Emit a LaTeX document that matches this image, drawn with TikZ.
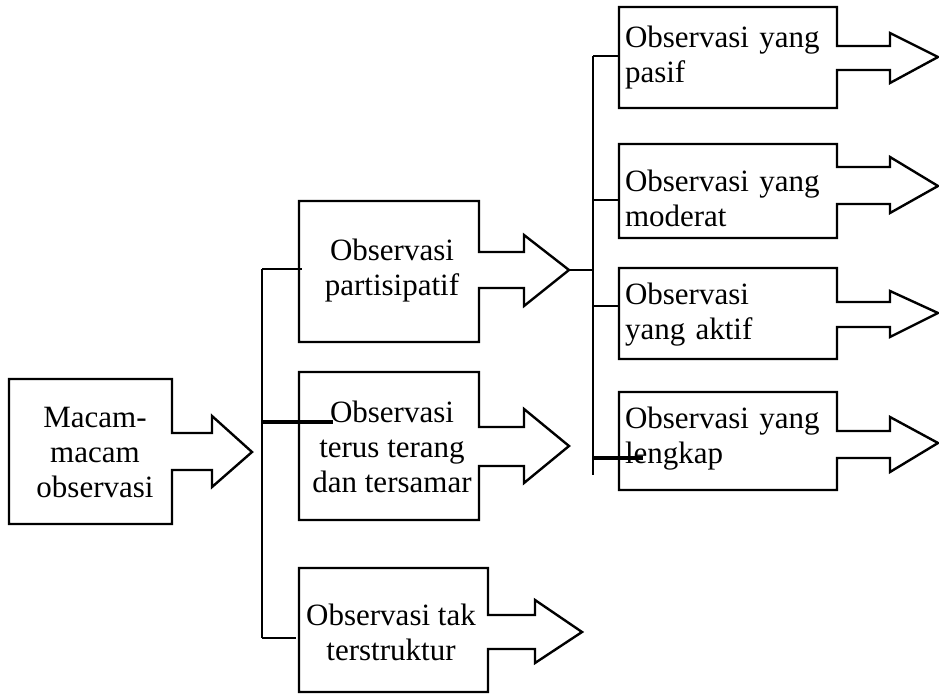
\documentclass[tikz,border=0pt]{standalone}
\usepackage{fontspec}
\setmainfont{Liberation Serif}
\begin{document}
\begin{tikzpicture}[x=1pt,y=-1pt,
  outl/.style={draw=black,line width=2.4pt,line join=miter},
  conn/.style={draw=black,line width=2.4pt},
  thinconn/.style={draw=black,line width=1.6pt},
  thickconn/.style={draw=black,line width=3.4pt},
  txtc/.style={inner sep=0pt,align=center,font=\fontsize{31}{35}\selectfont},
  txtl/.style={inner xsep=6pt,inner ysep=0pt,text width=206pt,align=left,font=\fontsize{31}{35}\selectfont}]
\useasboundingbox (0,0) rectangle (939,695);

% ---- outlines (box + arrow) ----
\draw[outl] (172,379) -- (9,379) -- (9,524) -- (172,524) -- (172,470) -- (212,470) -- (212,487) -- (252,452) -- (212,416) -- (212,433) -- (172,433) -- cycle;
\draw[outl] (479,201) -- (299,201) -- (299,342) -- (479,342) -- (479,288) -- (524,288) -- (524,306) -- (569,270) -- (524,235) -- (524,252) -- (479,252) -- cycle;
\draw[outl] (479,372) -- (299,372) -- (299,520) -- (479,520) -- (479,466) -- (524,466) -- (524,483) -- (569,446) -- (524,409) -- (524,427) -- (479,427) -- cycle;
\draw[outl] (488,568) -- (299,568) -- (299,692) -- (488,692) -- (488,649) -- (535,649) -- (535,663) -- (582,632) -- (535,600) -- (535,615) -- (488,615) -- cycle;
\draw[outl] (837,7) -- (619,7) -- (619,108) -- (837,108) -- (837,70) -- (890,70) -- (890,83) -- (938,57) -- (890,33) -- (890,46) -- (837,46) -- cycle;
\draw[outl] (837,144) -- (619,144) -- (619,238) -- (837,238) -- (837,204) -- (890,204) -- (890,213) -- (938,186) -- (890,157) -- (890,167) -- (837,167) -- cycle;
\draw[outl] (837,268) -- (619,268) -- (619,359) -- (837,359) -- (837,327) -- (890,327) -- (890,337) -- (938,313) -- (890,291) -- (890,302) -- (837,302) -- cycle;
\draw[outl] (837,392) -- (619,392) -- (619,490) -- (837,490) -- (837,458) -- (890,458) -- (890,472) -- (938,443) -- (890,417) -- (890,431) -- (837,431) -- cycle;

% ---- text nodes ----
\node[txtc,minimum width=163pt,minimum height=145pt] (M) at (95,452) {Macam-\\macam\\observasi};
\node[txtc,minimum width=180pt,minimum height=141pt] (A) at (392,271) {Observasi\\partisipatif};
\node[txtc,minimum width=180pt,minimum height=148pt] (B) at (392,447) {Observasi\\terus terang\\dan tersamar};
\node[txtc,minimum width=189pt,minimum height=124pt] (C) at (391,632) {Observasi tak\\terstruktur};
\node[txtl,minimum height=101pt] (P) at (728,58) {Observasi yang\\pasif};
\node[txtl,minimum height=94pt] (Q) at (728,198) {Observasi yang\\moderat};
\node[txtl,minimum height=91pt] (R) at (728,315) {Observasi\\yang aktif};
\node[txtl,minimum height=98pt] (S) at (728,439) {Observasi yang\\lengkap};

\coordinate (Atip) at (569,270);

% ---- left bracket ----
\coordinate (v1t) at (262,269);
\coordinate (v1b) at (262,638);
\coordinate (b0) at (262,422);
\coordinate (b1) at (333,422);
\draw[conn] (v1t) -- (v1b);
\draw[conn] (v1t) -- (v1t -| A.west);
\draw[conn] (v1b) -- (v1b -| C.west);
\draw[thickconn] (b0) -- (b1);

% ---- right bracket ----
\coordinate (v2t) at (593,56);
\coordinate (v2b) at (593,475);
\coordinate (q0) at (593,200);
\coordinate (r0) at (593,306);
\coordinate (s0) at (593,458);
\coordinate (s1) at (643,458);
\draw[thinconn] (Atip) -- (Atip -| v2t);
\draw[conn] (v2t) -- (v2b);
\draw[conn] (v2t) -- (v2t -| P.west);
\draw[conn] (q0) -- (q0 -| Q.west);
\draw[conn] (r0) -- (r0 -| R.west);
\draw[thickconn] (s0) -- (s1);
\end{tikzpicture}
\end{document}
